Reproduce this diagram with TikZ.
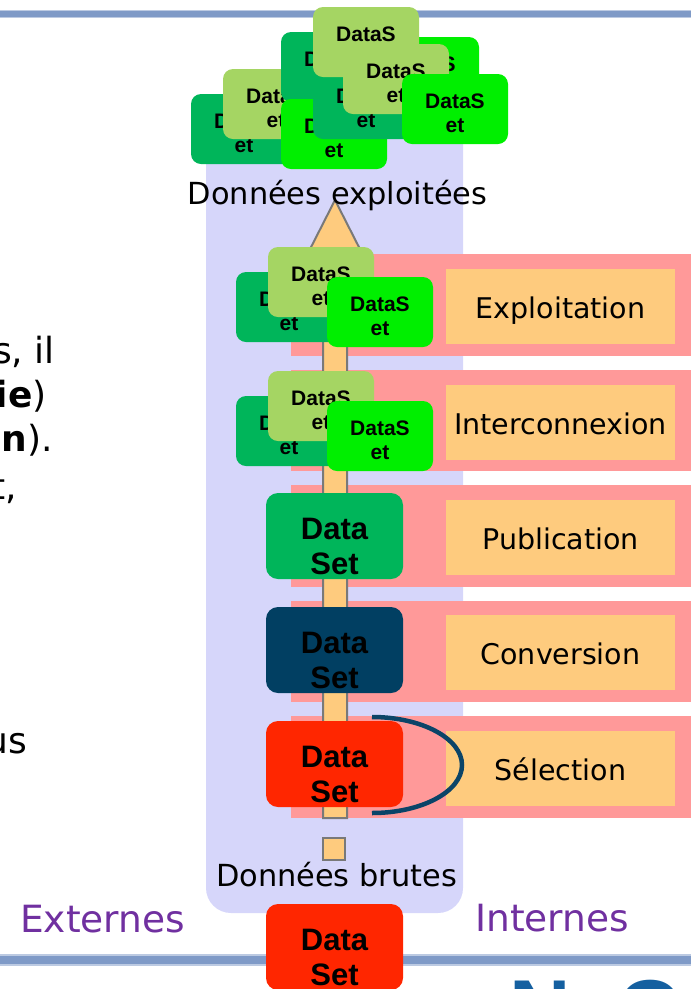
\documentclass[tikz,border=0pt]{standalone}
\usepackage{fontspec}
\setmainfont{DejaVu Sans}
\newfontfamily\dsfont{Liberation Sans}

\definecolor{dkgreen}{HTML}{00B55A}
\definecolor{ltgreen}{HTML}{A5D563}
\definecolor{brgreen}{HTML}{00EF00}
\definecolor{dsred}{HTML}{FF2600}
\definecolor{dsnavy}{HTML}{013F62}
\definecolor{arcnavy}{HTML}{0B4468}
\definecolor{pinkband}{HTML}{FF9999}
\definecolor{orangelab}{HTML}{FECB7E}
\definecolor{lavender}{HTML}{D6D6FA}
\definecolor{sidepurple}{HTML}{7030A0}
\definecolor{slideline}{HTML}{7F9AC7}
\definecolor{slidelinesoft}{HTML}{BCCAE2}
\definecolor{logoblue}{HTML}{1560A0}

\tikzset{
  bigds/.style={rounded corners=12pt, minimum width=137pt, minimum height=86pt,
    inner sep=0pt, align=center, text=black,
    font=\dsfont\bfseries\fontsize{31}{35}\selectfont},
  smallds/.style={rounded corners=10pt, minimum width=106pt, minimum height=70pt,
    inner sep=0pt, align=center, text=black,
    font=\dsfont\bfseries\fontsize{21}{24}\selectfont},
  stagelab/.style={fill=orangelab, minimum width=229pt, minimum height=75pt,
    inner sep=0pt, text height=23pt, text depth=0pt,
    font=\fontsize{28.5}{34}\selectfont},
  band/.style={fill=pinkband},
  flowshape/.style={fill=orangelab, draw=gray!95!black, line width=2pt},
  bodytext/.style={inner sep=0pt, font=\fontsize{36}{44}\selectfont},
  sidetext/.style={inner sep=0pt, text=sidepurple, font=\fontsize{37.5}{44}\selectfont},
  caption/.style={inner sep=0pt, font=\fontsize{30.4}{36}\selectfont},
}

\newcommand{\dsbig}{\rule{0pt}{42pt}Data\\Set}
\newcommand{\dssmall}{\rule{0pt}{24pt}DataS\\et}

\begin{document}
\begin{tikzpicture}[x=1pt,y=-1pt]
\useasboundingbox (0,0) rectangle (691,989);
\clip (0,0) rectangle (691,989);

% slide rules
\draw[slidelinesoft, line width=8pt] (0,13.8) -- (691,13.8);
\draw[slideline, line width=5.5pt] (0,13.8) -- (691,13.8);
\draw[slidelinesoft, line width=12pt] (0,960) -- (691,960);
\draw[slideline, line width=8pt] (0,960) -- (691,960);

% cut-off body text at the left edge
\node[bodytext, anchor=base east] (t1) at (55,363) {s, il};
\node[bodytext, anchor=base east] (t2) at (47,407) {\textbf{ie})};
\node[bodytext, anchor=base east] (t3) at (53,451) {\textbf{n}).};
\node[bodytext, anchor=base east] (t4) at (17,499) {t,};
\node[bodytext, anchor=base east] (t5) at (27,753) {us};

% data zone
\fill[lavender, rounded corners=25pt] (206,110) rectangle (463,913);

% stage bands and labels
\foreach \top in {254,369.5,485,600.5,716}
  \fill[band] (291,\top) rectangle (700,\top+101.5);
\node[stagelab] (lexp) at (560.5,306.5) {Exploitation};
\node[stagelab] (lint) at (560.5,422.5) {Interconnexion};
\node[stagelab] (lpub) at (560.5,537.5) {Publication};
\node[stagelab] (lcon) at (560.5,652.5) {Conversion};
\node[stagelab] (lsel) at (560.5,768.5) {Sélection};

% processing arrow
\coordinate (tip) at (335,200);
\coordinate (shaftbot) at (335,818);
\draw[flowshape]
  ([xshift=-12pt]shaftbot) -- ([xshift=-12pt,yshift=-59pt]tip)
  -- ([xshift=-30pt,yshift=-59pt]tip) -- (tip)
  -- ([xshift=30pt,yshift=-59pt]tip) -- ([xshift=12pt,yshift=-59pt]tip)
  -- ([xshift=12pt]shaftbot) -- cycle;
\node[flowshape, minimum size=22pt, inner sep=0pt] (rawsq) at (334,849) {};

\node[caption, anchor=base] (cexp) at (337.5,204) {Données exploitées};
\node[caption, anchor=base] (cbrut) at (336.5,886) {Données brutes};

% exploited data sets
\node[smallds, fill=dkgreen] (ta) at (244,129) {\dssmall};
\node[smallds, fill=ltgreen] (tb) at (276,104) {\dssmall};
\node[smallds, fill=dkgreen] (tc) at (334,67) {\dssmall};
\node[smallds, fill=brgreen] (td) at (334,134) {\dssmall};
\node[smallds, fill=dkgreen] (te) at (366,104) {\dssmall};
\node[smallds, fill=brgreen] (tg) at (426,72) {\dssmall};
\node[smallds, fill=ltgreen] (tf) at (366,42) {\dssmall};
\node[smallds, fill=ltgreen] (th) at (396,79) {\dssmall};
\node[smallds, fill=brgreen] (ti) at (455,109) {\dssmall};

% exploitation stage
\node[smallds, fill=dkgreen] (ea) at (289,307) {\dssmall};
\node[smallds, fill=ltgreen] (eb) at (321,282) {\dssmall};
\node[smallds, fill=brgreen] (ec) at (380,312) {\dssmall};

% interconnection stage
\node[smallds, fill=dkgreen] (ia) at (289,431) {\dssmall};
\node[smallds, fill=ltgreen] (ib) at (321,406) {\dssmall};
\node[smallds, fill=brgreen] (ic) at (380,436) {\dssmall};

% single data sets
\node[bigds, fill=dkgreen] (dpub) at (334.5,536) {\dsbig};
\node[bigds, fill=dsnavy] (dcon) at (334.5,650) {\dsbig};
\node[bigds, fill=dsred] (dsel) at (334.5,764) {\dsbig};
\node[bigds, fill=dsred] (dbrut) at (334.5,947) {\dsbig};

% selection loop
\draw[arcnavy, line width=4.5pt] ([xshift=37.5pt,yshift=47pt]dsel.center)
  arc[start angle=90, end angle=-90, x radius=90pt, y radius=48pt];

% side captions
\node[sidetext, anchor=base west] (ext) at (20,932) {Externes};
\node[sidetext, anchor=base west] (int) at (475,931) {Internes};

% logo, mostly below the page
\node[inner sep=0pt, anchor=base west, text=logoblue,
  font=\dsfont\bfseries\fontsize{85}{90}\selectfont] (logo) at (509,1039) {NeO};
\end{tikzpicture}
\end{document}
